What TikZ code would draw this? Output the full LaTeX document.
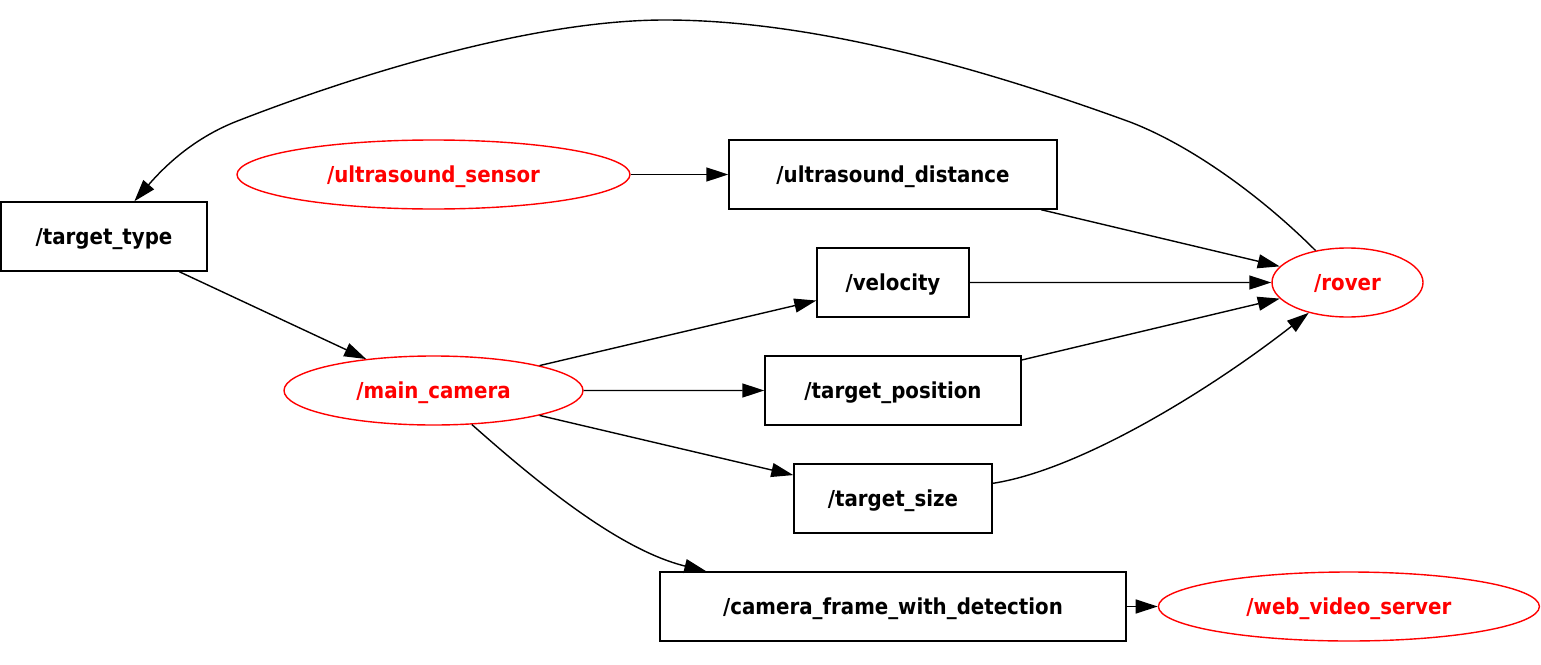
\documentclass[tikz,border=0pt]{standalone}
\usepackage{fontspec}
\setmainfont{DejaVu Sans Condensed}
\usepackage{xcolor}
\usepackage{tikz}
\usetikzlibrary{arrows.meta,positioning,shapes.geometric}
\tikzset{
  topicbox/.style={rectangle,draw=black,line width=0.7pt,minimum height=34.5pt,inner sep=0pt,text height=0.82em,text depth=0pt,font=\fontsize{11}{13}\selectfont\bfseries},
  nodeoval/.style={ellipse,draw=red,line width=0.7pt,text=red,minimum height=34.5pt,inner sep=0pt,text height=0.82em,text depth=0pt,font=\fontsize{11}{13}\selectfont\bfseries},
  arrow/.style={-{Triangle[length=11pt,width=7pt]},line width=0.7pt,draw=black}
}

\begin{document}
\begin{tikzpicture}[x=0.5pt,y=-0.5pt,node distance=18.8pt]
  \useasboundingbox (0,0) rectangle (1541,664);
  \node[topicbox,minimum width=103pt] (type) at (104,236.5) {/target\_type};
  \node[nodeoval,minimum width=196.5pt] (sensor) at (433.5,174.5) {/ultrasound\_sensor};
  \node[nodeoval,minimum width=149.5pt] (camera) at (433.5,390.5) {/main\_camera};
  \node[topicbox,minimum width=164pt] (dist) at (893,174.5) {/ultrasound\_distance};
  \node[topicbox,minimum width=76pt,below=of dist] (vel) {/velocity};
  \node[topicbox,minimum width=128pt,below=of vel] (pos) {/target\_position};
  \node[topicbox,minimum width=99pt,below=of pos] (size) {/target\_size};
  \node[topicbox,minimum width=233pt,below=of size] (frame) {/camera\_frame\_with\_detection};
  \node[nodeoval,minimum width=75.5pt] (rover) at (1347.5,282.5) {/rover};
  \node[nodeoval,minimum width=190.5pt,right=15.5pt of frame] (web) {/web\_video\_server};

  \draw[arrow] (sensor) -- (dist);
  \draw[arrow] (dist) -- (rover);
  \draw[arrow] (vel) -- (rover);
  \draw[arrow] (pos) -- (rover);
  \draw[arrow] (size) .. controls (1080,470) and (1210,390) .. (rover);
  \draw[arrow] (type) -- (camera);
  \draw[arrow] (camera) -- (vel);
  \draw[arrow] (camera) -- (pos);
  \draw[arrow] (camera) -- (size);
  \draw[arrow] (camera) .. controls (540,485) and (620,550) .. ([xshift=23.5pt]frame.north west);
  \draw[arrow] (frame) -- (web);
  \draw[arrow] (rover) .. controls (1260,195) and (1190,145) .. (1130,122)
    .. controls (960,60) and (800,20) .. (665,20)
    .. controls (520,20) and (330,85) .. (240,120)
    .. controls (200,135) and (170,160) .. (type);
\end{tikzpicture}
\end{document}
